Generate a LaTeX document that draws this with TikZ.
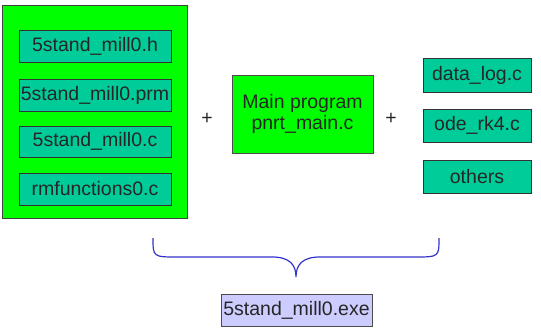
\documentclass[tikz,border=0pt]{standalone}
\usepackage{fontspec}
\setmainfont{Liberation Sans}
\definecolor{brightgreen}{HTML}{00FF00}
\definecolor{tealbox}{HTML}{00CC99}
\definecolor{exebox}{HTML}{CCCCFF}
\definecolor{braceblue}{HTML}{3333CC}
\begin{document}
\begin{tikzpicture}[x=1pt,y=-1pt,
  every node/.style={font=\fontsize{19.5}{20.5}\selectfont, text=black!85},
  outerbox/.style={draw=black!75, line width=1pt, fill=brightgreen},
  filebox/.style={draw=black!80, line width=1pt, fill=tealbox, inner sep=0pt},
  mainbox/.style={draw=black!70, line width=1pt, fill=brightgreen, inner sep=0pt, align=center},
  exestyle/.style={draw=black!70, line width=1pt, fill=exebox, inner sep=0pt},
  bracestyle/.style={draw=braceblue, line width=1.2pt}]
\useasboundingbox (0,0) rectangle (541,327);
\fill[white] (0,0) rectangle (541,327);
% outer green group
\node[outerbox, minimum width=185pt, minimum height=213pt, inner sep=0pt] (group) at (94.5,112) {};
% left files
\node[filebox, minimum width=152pt, minimum height=32pt] (h) at (95,46) {5stand\_mill0.h};
\node[filebox, minimum width=152pt, minimum height=32pt] (prm) at (95,95) {5stand\_mill0.prm};
\node[filebox, minimum width=152pt, minimum height=31pt] (c) at (95,141.5) {5stand\_mill0.c};
\node[filebox, minimum width=152pt, minimum height=32pt] (rm) at (95,189) {rmfunctions0.c};
% plus signs
\node (plus1) at (207,119) {+};
\node (plus2) at (391,119) {+};
% main program
\node[mainbox, minimum width=141pt, minimum height=78pt] (main) at (302.5,114) {Main program\\pnrt\_main.c};
% right files
\node[filebox, minimum width=108pt, minimum height=34pt] (dl) at (477,75) {data\_log.c};
\node[filebox, minimum width=108pt, minimum height=33pt] (ode) at (477,125.5) {ode\_rk4.c};
\node[filebox, minimum width=108pt, minimum height=33pt] (oth) at (477,176.5) {others};
% brace
\coordinate (bl) at (153,238);
\coordinate (tip) at (296,277);
\coordinate (br) at (439,238);
\draw[bracestyle] (bl) .. controls (153,257) and (153,257) .. (178,257) -- (272,257)
  .. controls (290,257) and (296,265) .. (tip)
  .. controls (296,265) and (302,257) .. (320,257) -- (414,257)
  .. controls (439,257) and (439,257) .. (br);
% exe
\node[exestyle, minimum width=151pt, minimum height=32pt] (exe) at (296.5,310) {5stand\_mill0.exe};
\end{tikzpicture}
\end{document}
